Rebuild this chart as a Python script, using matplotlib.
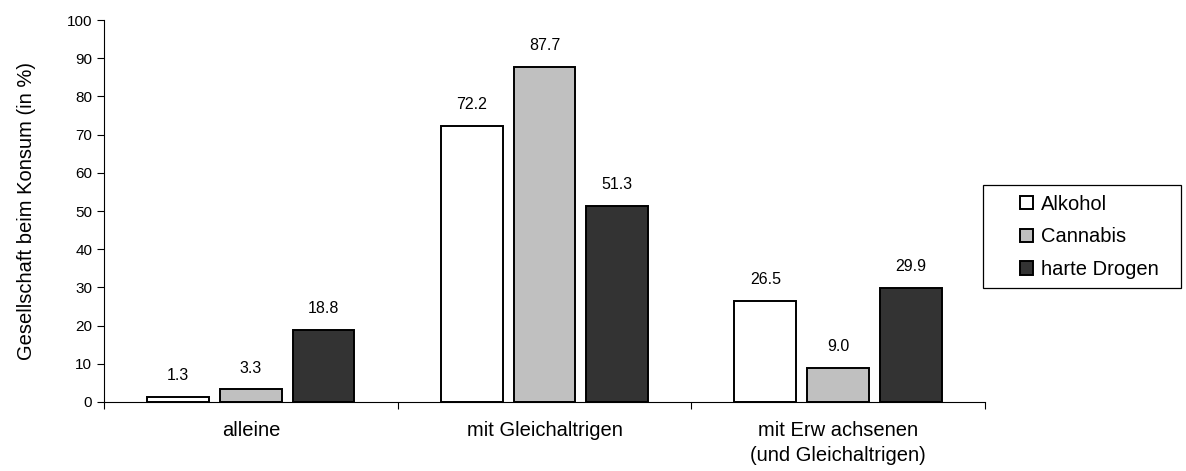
import numpy as np
import matplotlib.pyplot as plt
from matplotlib.patches import Rectangle

plt.rcParams['font.family'] = ['Liberation Sans', 'DejaVu Sans']

# categories and values
categories = ["alleine", "mit Gleichaltrigen", "mit Erw achsenen\n(und Gleichaltrigen)"]
alkohol = [1.3, 72.2, 26.5]
cannabis = [3.3, 87.7, 9.0]
harte_drogen = [18.8, 51.3, 29.9]
series_names = ["Alkohol", "Cannabis", "harte Drogen"]
colors = ["white", "#c0c0c0", "#333333"]

fig = plt.figure(figsize=(11.86, 4.71), dpi=100)
ax = fig.add_axes([0.0877, 0.1465, 0.7428, 0.811])

x = np.arange(len(categories))
width = 0.21
offsets = [-0.248, 0, 0.248]
for vals, name, col, off in zip([alkohol, cannabis, harte_drogen], series_names, colors, offsets):
    bars = ax.bar(x + off, vals, width, color=col, edgecolor="black", linewidth=1.4, label=name)
    for b, v in zip(bars, vals):
        ax.annotate(f"{v:.1f}", (b.get_x() + b.get_width() / 2, v), xytext=(0, 10),
                    textcoords="offset points", ha="center", va="bottom", fontsize=11.5)

ax.set_xlim(-0.5, 2.5)
ax.set_ylim(0, 100)
ax.set_yticks(range(0, 101, 10))
ax.set_xticks([-0.5, 0.5, 1.5, 2.5])
ax.set_xticklabels([])
ax.set_xticks(x, minor=True)
ax.set_xticklabels(categories, minor=True, fontsize=14.5, linespacing=1.4)
ax.tick_params(axis="x", which="minor", length=0, pad=14)
ax.tick_params(axis="x", which="major", length=5, direction="out")
ax.tick_params(axis="y", length=5, direction="out", labelsize=11)
ax.spines["top"].set_visible(False)
ax.spines["right"].set_visible(False)
ax.set_ylabel("Gesellschaft beim Konsum (in %)", fontsize=14.5, labelpad=22)

# legend frame drawn separately, content placed inside
fig.add_artist(Rectangle((0.8288, 0.3885), 0.1669, 0.2187, transform=fig.transFigure,
                         facecolor="white", edgecolor="black", linewidth=0.9))
fig.legend(loc="center left", bbox_to_anchor=(1020 / 1186, 1 - 237 / 471), fontsize=14.5,
           handlelength=0.65, handleheight=0.65, handletextpad=0.4,
           labelspacing=0.68, borderpad=0, frameon=False, borderaxespad=0)

fig.savefig("out.png", dpi=100)
